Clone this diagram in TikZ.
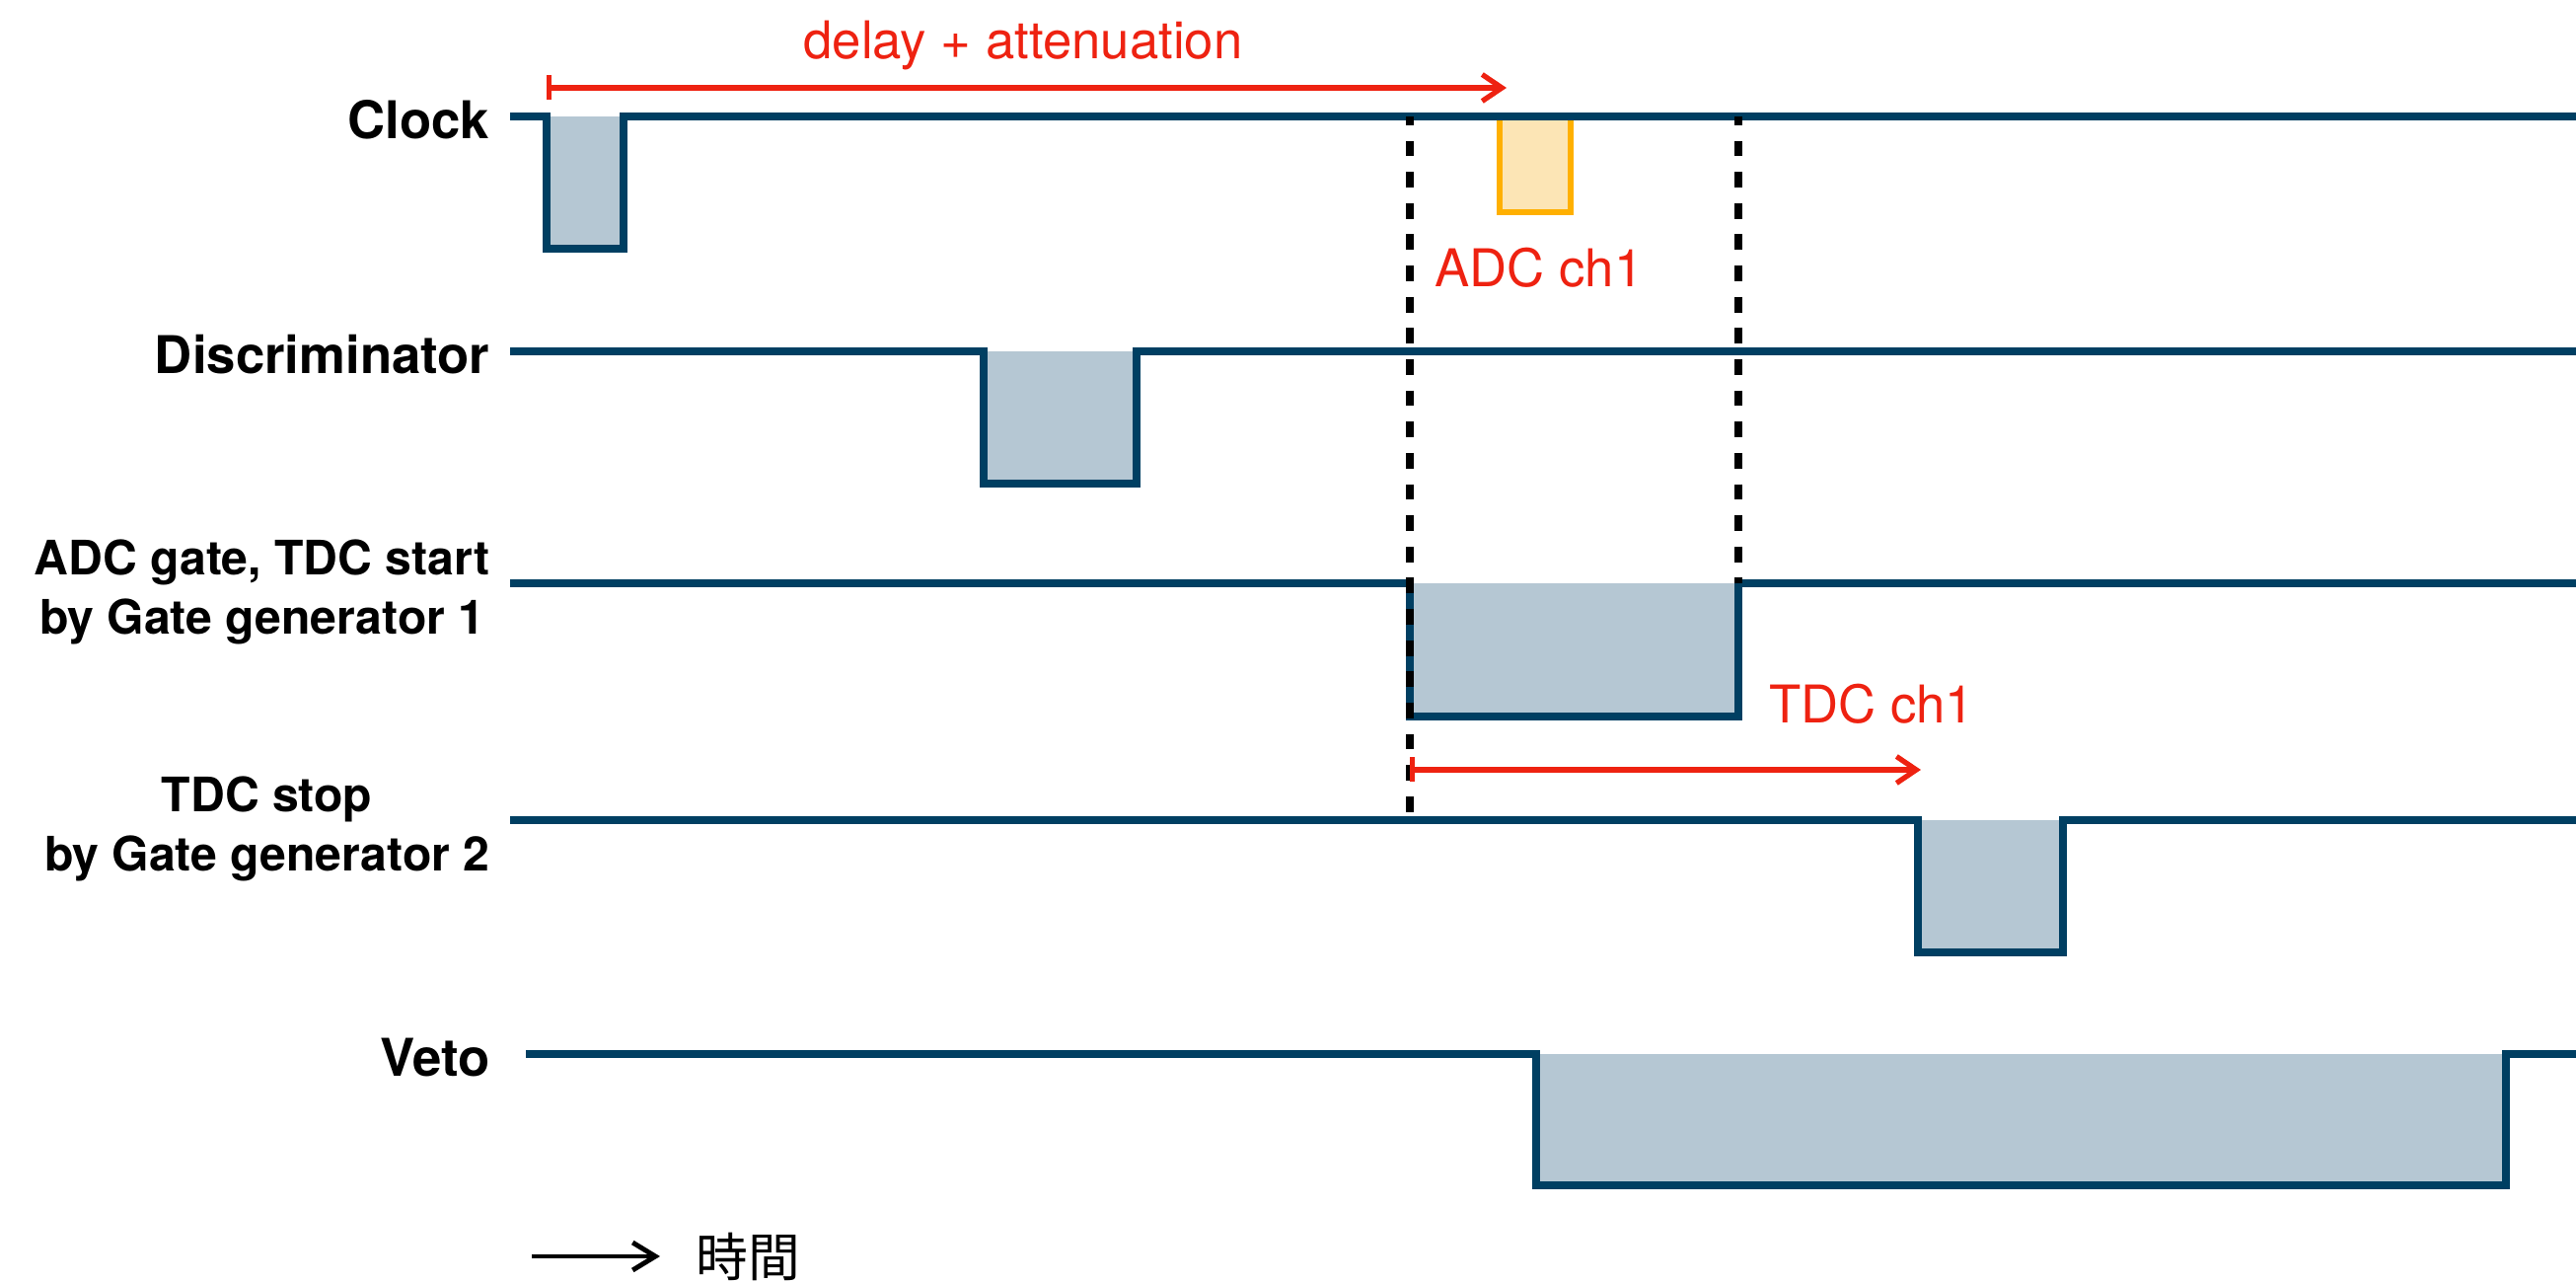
\documentclass[tikz,border=0pt]{standalone}
\usepackage{fontspec}
\setmainfont{TeX Gyre Heros}
\newfontfamily\jpfont{Noto Sans CJK JP}
\usepackage{tikz}
\usetikzlibrary{positioning, arrows.meta}
\usepackage{xcolor}
\definecolor{sigblue}{RGB}{0,63,98}
\definecolor{pulsefill}{RGB}{181,199,211}
\definecolor{adcorange}{RGB}{255,176,0}
\definecolor{adcfill}{RGB}{252,229,181}
\definecolor{notered}{RGB}{238,34,17}

\begin{document}
\begin{tikzpicture}[
    signal/.style={draw=sigblue, line width=2.1pt, line join=miter},
    pulse/.style={fill=pulsefill},
    gateline/.style={draw=black, line width=2.2pt, dash pattern=on 4.5pt off 4.5pt, dash phase=2pt},
    span/.style={draw=notered, line width=1.5pt, {Bar[width=2.5mm]}-{Straight Barb[length=2mm,width=2.7mm]}},
    sigtext/.style={font=\fontsize{15}{18}\selectfont\bfseries, inner sep=0pt},
    sigtext2/.style={font=\fontsize{13.7}{17}\selectfont\bfseries, align=center, inner sep=0pt},
    redtext/.style={font=\fontsize{15}{18}\selectfont, text=notered, inner sep=0pt}]
  \useasboundingbox (0,0) rectangle (26.11,-13);
  % ADC window, under the clock line
  \filldraw[fill=adcfill, draw=adcorange, line width=1.5pt] (15.20,-1.18) rectangle (15.92,-2.15);
  % the five signals
  \foreach \nm/\y/\xs/\a/\b/\lo in {clk/1.18/5.17/5.54/6.32/2.52, disc/3.56/5.17/9.97/11.52/4.90,
      gate/5.91/5.17/14.29/17.62/7.26, stop/8.31/5.17/19.44/20.91/9.65, veto/10.68/5.33/15.57/25.40/12.01} {
    \fill[pulse] (\a,-\y) rectangle (\b,-\lo);
    \draw[signal] (\xs,-\y) -- (\a,-\y) -- (\a,-\lo) -- (\b,-\lo) -- (\b,-\y) -- (26.11,-\y);
    \coordinate (\nm-a) at (\a,-\y);
    \coordinate (\nm-b) at (\b,-\y);
  }
  \node[sigtext, anchor=base east] (clock) at (4.97,-1.41) {Clock};
  \node[sigtext, anchor=base east] (disc) at (4.97,-3.79) {Discriminator};
  \node[sigtext2, anchor=east] (gatelab) at (4.97,-6.00) {ADC gate, TDC start\\by Gate generator 1};
  \node[sigtext2, anchor=east] (stoplab) at (4.97,-8.40) {TDC stop\\by Gate generator 2};
  \node[sigtext, anchor=base east] (veto) at (4.97,-10.91) {Veto};

  % gate edges
  \draw[gateline] (gate-a |- clk-a) -- (gate-a |- stop-a);
  \draw[gateline] (gate-b |- clk-a) -- (gate-b);

  % delays
  \coordinate (d0) at (5.54,-0.89);
  \coordinate (d1) at (15.27,-0.89);
  \draw[span] (d0) -- (d1);
  \node[redtext, anchor=base] (delaylab) at (10.37,-0.60) {delay + attenuation};
  \node[redtext, anchor=base] (adclab) at (15.60,-2.91) {ADC ch1};
  \coordinate (t0) at (14.29,-7.80);
  \coordinate (t1) at (19.47,-7.80);
  \draw[span] (t0) -- (t1);
  \node[redtext, anchor=base] (tdclab) at (18.97,-7.33) {TDC ch1};

  % time axis
  \coordinate (ax0) at (5.39,-12.73);
  \coordinate (ax1) at (6.69,-12.73);
  \draw[line width=1.4pt, -{Straight Barb[length=2.3mm,width=2.8mm]}] (ax0) -- (ax1);
  \node[font=\fontsize{15}{18}\selectfont\jpfont, inner sep=0pt] (timelab) at (7.58,-12.73) {時間};
\end{tikzpicture}
\end{document}
